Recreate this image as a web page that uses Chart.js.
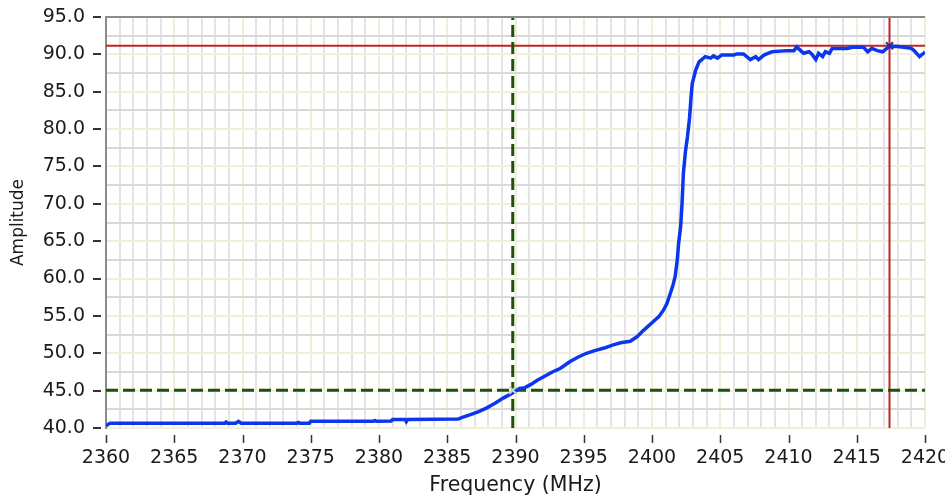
<!DOCTYPE html>
<html>
<head>
<meta charset="utf-8">
<script src="https://cdn.jsdelivr.net/npm/chart.js@4.4.1/dist/chart.umd.min.js"></script>
<style>
  html, body { margin: 0; padding: 0; background: #ffffff; }
  #wrap { width: 945px; height: 496px; }
</style>
</head>
<body>
<div id="wrap"><canvas id="c" width="945" height="496"></canvas></div>
<script>
// ---- data ----
const frequencyMHz = [
  2360.0, 2360.3, 2364.0, 2368.7, 2368.8, 2368.9, 2369.5, 2369.7, 2369.9, 2374.0,
  2374.1, 2374.2, 2374.9, 2375.0, 2379.6, 2379.7, 2379.8, 2380.9, 2381.0, 2381.9,
  2382.0, 2382.1, 2385.8, 2386.0, 2386.7, 2387.3, 2387.9, 2388.5, 2389.1, 2389.6,
  2390.0, 2390.3, 2390.7, 2391.1, 2391.6, 2392.1, 2392.7, 2393.3, 2394.0, 2394.6,
  2395.2, 2395.8, 2396.5, 2397.1, 2397.7, 2398.4, 2398.9, 2399.4, 2400.1, 2400.5,
  2400.85, 2401.1, 2401.34, 2401.55, 2401.7, 2401.85, 2401.95, 2402.1, 2402.2, 2402.3,
  2402.45, 2402.6, 2402.75, 2402.85, 2402.95, 2403.2, 2403.45, 2403.9, 2404.3, 2404.5,
  2404.8, 2405.1, 2406.0, 2406.2, 2406.7, 2407.2, 2407.6, 2407.8, 2408.2, 2408.8,
  2409.9, 2410.4, 2410.6, 2411.1, 2411.5, 2411.7, 2412.0, 2412.2, 2412.5, 2412.7,
  2413.0, 2413.2, 2414.3, 2414.7, 2415.5, 2415.8, 2416.1, 2416.5, 2416.9, 2417.4,
  2418.0, 2419.0, 2419.2, 2419.6, 2419.9, 2420.0
];
const amplitude = [
  40.3, 40.65, 40.65, 40.65, 40.8, 40.65, 40.65, 40.9, 40.65, 40.65,
  40.75, 40.65, 40.65, 40.9, 40.9, 41.0, 40.9, 40.95, 41.15, 41.15,
  40.85, 41.15, 41.2, 41.35, 41.8, 42.2, 42.7, 43.3, 44.0, 44.5,
  44.9, 45.3, 45.4, 45.8, 46.4, 46.9, 47.5, 48.0, 48.9, 49.5,
  50.0, 50.35, 50.7, 51.1, 51.4, 51.6, 52.2, 53.1, 54.25, 54.9,
  55.8, 56.7, 58.0, 59.2, 60.3, 62.5, 64.7, 67.0, 70.0, 74.1,
  77.0, 79.0, 81.5, 84.0, 86.1, 87.9, 89.0, 89.7, 89.5, 89.8,
  89.5, 89.9, 89.9, 90.05, 90.05, 89.3, 89.7, 89.3, 89.9, 90.35,
  90.5, 90.5, 91.0, 90.15, 90.35, 90.05, 89.3, 90.15, 89.7, 90.35,
  90.15, 90.8, 90.8, 90.95, 90.95, 90.35, 90.8, 90.5, 90.35, 91.1,
  91.05, 90.8, 90.5, 89.7, 90.15, 90.3
];
const xRange = [2360, 2420];
const yRange = [40, 95];
const xTickStep = 1;   // minor grid every 1 MHz, labels every 5
const yTickStep = 2.5; // minor grid every 2.5, labels every 5
const cursorGreen = [2389.8, 45.05];
const cursorRed = [2417.4, 91.15];

// ---- styles ----
const BLUE = '#0c36ee';
const GREEN = '#1f5209';
const RED = '#c02424';
const GRID_MAJOR = '#f0efdc';
const GRID_MINOR_X = '#e4e4e4';
const GRID_MINOR_Y = '#d9d9d9';
const TEXT = '#1a1a1a';

Chart.defaults.font.family = "'DejaVu Sans', Verdana, sans-serif";
Chart.defaults.font.size = 19;
Chart.defaults.color = TEXT;

const curve = frequencyMHz.map((f, i) => ({ x: f, y: amplitude[i] }));

const isMajor = v => Math.abs(v / 5 - Math.round(v / 5)) < 1e-6;

const tickMarks = {
  id: 'tickMarks',
  afterDraw(chart) {
    const { ctx, chartArea } = chart;
    const xs = chart.scales.x, ys = chart.scales.y;
    ctx.save();
    // top frame line
    ctx.strokeStyle = '#8c8c8c';
    ctx.lineWidth = 2;
    ctx.beginPath();
    ctx.moveTo(chartArea.left - 1, chartArea.top);
    ctx.lineTo(chartArea.right, chartArea.top);
    ctx.stroke();
    ctx.strokeStyle = '#333333';
    ctx.lineWidth = 2;
    ys.ticks.forEach(t => {
      if (!isMajor(t.value)) return;
      const p = Math.round(ys.getPixelForValue(t.value));
      ctx.beginPath();
      ctx.moveTo(chartArea.left - 13, p);
      ctx.lineTo(chartArea.left - 5, p);
      ctx.stroke();
    });
    ctx.lineWidth = 1.5;
    xs.ticks.forEach(t => {
      if (!isMajor(t.value)) return;
      const p = Math.round(xs.getPixelForValue(t.value)) + 0.5;
      ctx.beginPath();
      ctx.moveTo(p, chartArea.bottom + 7);
      ctx.lineTo(p, chartArea.bottom + 15);
      ctx.stroke();
    });
    ctx.restore();
  }
};

new Chart(document.getElementById('c'), {
  type: 'line',
  data: {
    datasets: [
      {
        label: 'markers',
        data: [{ x: cursorGreen[0], y: cursorGreen[1] }, { x: cursorRed[0], y: cursorRed[1] }],
        showLine: false,
        pointStyle: 'crossRot',
        pointRadius: 5,
        pointBorderWidth: 2,
        pointBorderColor: ['#c8d8c0', '#3a2a8a'],
        pointBackgroundColor: 'transparent'
      },
      {
        label: 'Amplitude',
        data: curve,
        borderColor: BLUE,
        borderWidth: 3.5,
        pointRadius: 0,
        tension: 0,
        fill: false
      },
      {
        label: 'green v',
        data: [{ x: cursorGreen[0], y: yRange[0] }, { x: cursorGreen[0], y: yRange[1] }],
        borderColor: GREEN, borderWidth: 3, borderDash: [12, 5], pointRadius: 0
      },
      {
        label: 'green h',
        data: [{ x: xRange[0], y: cursorGreen[1] }, { x: xRange[1], y: cursorGreen[1] }],
        borderColor: GREEN, borderWidth: 3, borderDash: [12, 5], pointRadius: 0
      },
      {
        label: 'red v',
        data: [{ x: cursorRed[0], y: yRange[0] }, { x: cursorRed[0], y: yRange[1] }],
        borderColor: RED, borderWidth: 2, pointRadius: 0
      },
      {
        label: 'red h',
        data: [{ x: xRange[0], y: cursorRed[1] }, { x: xRange[1], y: cursorRed[1] }],
        borderColor: RED, borderWidth: 2, pointRadius: 0
      }
    ]
  },
  options: {
    responsive: false,
    animation: false,
    events: [],
    layout: { padding: { top: 17, right: 20, bottom: 0, left: 0 } },
    plugins: { legend: { display: false }, tooltip: { enabled: false } },
    scales: {
      x: {
        type: 'linear',
        min: xRange[0], max: xRange[1],
        afterFit(s) { s.height = 68; s.paddingLeft = 0; s.paddingRight = 0; },
        ticks: {
          stepSize: xTickStep, autoSkip: false, maxRotation: 0, padding: 19,
          callback: v => isMajor(v) ? String(Math.round(v)) : ''
        },
        grid: {
          drawTicks: false,
          lineWidth: 2,
          color: c => isMajor(c.tick.value) ? GRID_MAJOR : GRID_MINOR_X
        },
        border: { display: false },
        title: { display: true, text: 'Frequency (MHz)', padding: { top: 0, bottom: -2 }, color: TEXT, font: { size: 20.5 } }
      },
      y: {
        type: 'linear',
        min: yRange[0], max: yRange[1],
        afterFit(s) { s.width = 106; s.paddingTop = 0; s.paddingBottom = 0; },
        ticks: {
          stepSize: yTickStep, autoSkip: false, padding: 21,
          callback: v => isMajor(v) ? v.toFixed(1) : ''
        },
        grid: {
          drawTicks: false,
          lineWidth: 2,
          color: c => isMajor(c.tick.value) ? GRID_MAJOR : GRID_MINOR_Y
        },
        border: { display: true, color: '#8c8c8c', width: 2 },
        title: { display: true, text: 'Amplitude', padding: { top: 8, bottom: 0 }, color: TEXT, font: { size: 17 } }
      }
    }
  },
  plugins: [tickMarks]
});
</script>
</body>
</html>
